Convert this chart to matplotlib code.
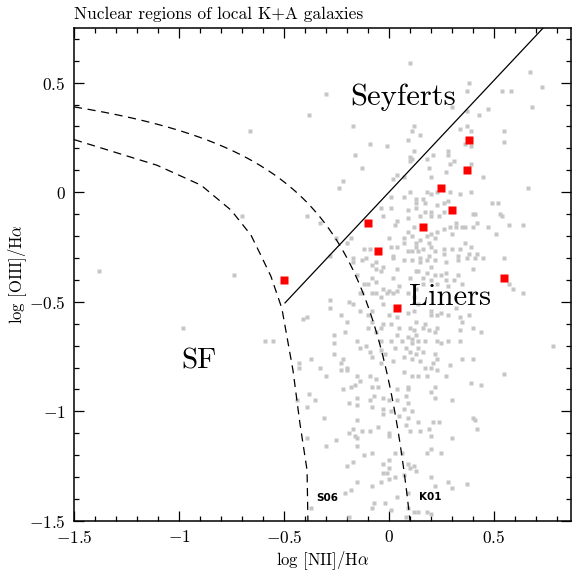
import numpy as np
import matplotlib
matplotlib.use("Agg")
import matplotlib.pyplot as plt

plt.rcParams["font.family"] = "cmr10"
plt.rcParams["mathtext.fontset"] = "cm"
plt.rcParams["axes.formatter.use_mathtext"] = True

# gray points: nuclear spectra, log [NII]/Ha vs log [OIII]/Ha
upper_pts = [
    (0.10, 0.59), (-0.30, 0.45), (-0.38, 0.35), (-0.17, 0.30), (0.12, 0.30), (0.11, 0.28),
    (0.09, 0.24), (-0.09, 0.22), (-0.01, 0.21), (0.12, 0.19), (-0.16, 0.17), (0.10, 0.16),
    (0.11, 0.15), (0.67, 0.55), (0.38, 0.50), (0.37, 0.46), (0.54, 0.46), (0.58, 0.46),
    (0.73, 0.48), (0.30, 0.39), (0.47, 0.38), (0.68, 0.39), (0.43, 0.35), (0.37, 0.37),
    (0.15, 0.26), (0.34, 0.29), (0.37, 0.30), (0.39, 0.28), (0.55, 0.28), (0.55, 0.23),
    (0.36, 0.22), (0.39, 0.21), (0.28, 0.19), (0.28, 0.17), (0.21, 0.17), (0.18, 0.15),
    (0.31, 0.14), (0.39, 0.13), (-0.66, 0.28),
]
mid_left_pts = [
    (-0.13, 0.11), (0.10, 0.14), (0.04, 0.08), (0.02, 0.06), (0.07, 0.07), (-0.22, 0.05),
    (-0.24, 0.02), (0.10, 0.00), (0.01, -0.02), (0.07, -0.02), (0.13, -0.05), (-0.04, -0.07),
    (0.01, -0.07), (0.13, -0.07), (0.09, -0.08), (-0.03, -0.11), (-0.39, -0.11), (0.09, -0.12),
    (0.04, -0.13), (0.03, -0.15), (-0.33, -0.14), (0.12, -0.16), (0.09, -0.18), (0.11, -0.20),
    (0.00, -0.21), (0.07, -0.21), (-0.25, -0.21), (-0.18, -0.21), (-0.20, -0.23), (0.07, -0.23),
    (0.04, -0.25), (0.13, -0.23), (-0.12, -0.26), (0.01, -0.25), (-0.09, -0.26), (0.09, -0.27),
    (0.13, -0.25), (0.11, -0.27), (0.02, -0.29), (0.02, -0.30), (-0.28, -0.29), (-0.17, -0.30),
    (-0.11, -0.30), (-0.13, -0.31), (-0.17, -0.32), (0.07, -0.31), (0.11, -0.31), (-0.08, -0.33),
    (-0.06, -0.32), (-0.03, -0.34), (-0.06, -0.35), (-0.04, -0.36), (0.04, -0.35), (0.13, -0.36),
    (0.02, -0.39), (0.10, -0.39), (-0.15, -0.38), (-0.08, -0.39), (-0.06, -0.41), (-0.12, -0.42),
    (-0.10, -0.42), (-0.03, -0.44), (0.00, -0.45), (0.05, -0.43), (0.04, -0.45), (0.09, -0.46),
    (-0.13, -0.46), (-0.08, -0.46), (0.13, -0.44), (-0.06, -0.46), (-0.70, -0.11),
]
mid_right_pts = [
    (0.19, 0.11), (0.29, 0.13), (0.45, 0.07), (0.20, 0.07), (0.27, 0.09), (0.66, 0.02),
    (0.18, 0.00), (0.23, 0.00), (0.20, -0.01), (0.29, 0.00), (0.34, -0.01), (0.39, 0.00),
    (0.13, -0.03), (0.16, -0.03), (0.26, -0.05), (0.28, -0.04), (0.17, -0.05), (0.23, -0.06),
    (0.49, -0.05), (0.52, -0.05), (0.17, -0.09), (0.20, -0.09), (0.26, -0.09), (0.40, -0.10),
    (0.41, -0.10), (0.53, -0.10), (0.54, -0.11), (0.15, -0.11), (0.20, -0.11), (0.24, -0.11),
    (0.32, -0.14), (0.42, -0.14), (0.35, -0.16), (0.36, -0.16), (0.40, -0.16), (0.57, -0.15),
    (0.64, -0.15), (0.47, -0.16), (0.32, -0.16), (0.26, -0.17), (0.29, -0.16), (0.20, -0.19),
    (0.23, -0.18), (0.30, -0.19), (0.51, -0.19), (0.18, -0.20), (0.22, -0.21), (0.19, -0.23),
    (0.15, -0.22), (0.36, -0.23), (0.39, -0.25), (0.30, -0.26), (0.26, -0.26), (0.20, -0.25),
    (0.14, -0.27), (0.16, -0.26), (0.22, -0.27), (0.26, -0.28), (0.34, -0.26), (0.38, -0.28),
    (0.42, -0.28), (0.19, -0.29), (0.15, -0.30), (0.33, -0.29), (0.37, -0.30), (0.41, -0.30),
    (0.45, -0.30), (0.55, -0.30), (0.18, -0.31), (0.27, -0.32), (0.33, -0.31), (0.22, -0.31),
    (0.15, -0.32), (0.20, -0.34), (0.14, -0.36), (0.27, -0.37), (0.40, -0.35), (0.18, -0.37),
    (0.22, -0.38), (0.25, -0.38), (0.33, -0.38), (0.16, -0.39), (0.20, -0.40), (0.27, -0.40),
    (0.31, -0.40), (0.16, -0.42), (0.23, -0.42), (0.35, -0.42), (0.57, -0.42), (0.59, -0.44),
    (0.64, -0.46), (0.28, -0.43),
]
low_left_pts = [
    (-0.14, -0.46), (-0.04, -0.48), (-0.01, -0.46), (0.02, -0.46), (-0.28, -0.49), (-0.19, -0.50),
    (-0.17, -0.51), (-0.03, -0.51), (-0.28, -0.53), (-0.14, -0.54), (-0.08, -0.54), (-0.10, -0.56),
    (0.00, -0.56), (0.04, -0.57), (0.09, -0.55), (0.12, -0.54), (-0.41, -0.58), (-0.39, -0.57),
    (-0.23, -0.56), (-0.20, -0.59), (-0.08, -0.59), (-0.03, -0.60), (0.01, -0.60), (-0.10, -0.62),
    (-0.04, -0.62), (0.05, -0.62), (0.10, -0.62), (0.12, -0.63), (-0.21, -0.64), (-0.26, -0.65),
    (-0.06, -0.64), (0.04, -0.65), (0.09, -0.66), (0.11, -0.67), (-0.04, -0.68), (0.01, -0.68),
    (0.06, -0.68), (-0.15, -0.68), (-0.26, -0.69), (-0.11, -0.70), (0.11, -0.69), (-0.14, -0.71),
    (-0.04, -0.72), (0.03, -0.71), (0.08, -0.71), (-0.09, -0.73), (0.10, -0.73), (-0.02, -0.74),
    (-0.26, -0.74), (-0.08, -0.75), (0.07, -0.75), (0.11, -0.76), (0.02, -0.77), (-0.37, -0.76),
    (-0.43, -0.78), (-0.23, -0.78), (-0.22, -0.76), (-0.43, -0.80), (-0.20, -0.80), (-0.04, -0.78),
    (-0.33, -0.80), (-0.23, -0.81), (-0.20, -0.81), (0.07, -0.82), (-0.30, -0.84), (-0.15, -0.84),
    (-0.09, -0.84), (-0.06, -0.85), (0.11, -0.84), (-0.14, -0.86), (-0.16, -0.88), (-0.08, -0.89),
    (-0.05, -0.89), (0.09, -0.89), (-0.18, -0.89), (-0.22, -0.90), (0.04, -0.90), (0.09, -0.90),
    (-0.38, -0.92), (-0.07, -0.93), (-0.03, -0.94), (0.08, -0.93), (-0.15, -0.94), (-0.35, -0.95),
    (-0.44, -0.95), (0.00, -0.95), (-0.09, -0.95), (0.04, -0.95), (-0.19, -0.96), (0.09, -0.96),
    (-0.39, -0.98), (-0.08, -0.98), (-0.15, -0.97), (-0.03, -0.99), (0.07, -0.99), (0.11, -1.00),
    (0.01, -1.00), (-0.03, -1.01), (0.05, -1.02), (0.09, -1.03), (-0.31, -1.03), (-0.15, -1.04),
    (-1.38, -0.36), (-0.74, -0.38), (-0.98, -0.62), (-0.59, -0.68), (-0.55, -0.68),
]
low_right_pts = [
    (0.12, -0.48), (0.14, -0.51), (0.20, -0.54), (0.20, -0.56), (0.23, -0.56), (0.25, -0.55),
    (0.28, -0.56), (0.32, -0.53), (0.34, -0.57), (0.38, -0.56), (0.35, -0.59), (0.13, -0.59),
    (0.17, -0.60), (0.23, -0.62), (0.16, -0.62), (0.40, -0.62), (0.19, -0.63), (0.22, -0.64),
    (0.44, -0.64), (0.34, -0.63), (0.13, -0.65), (0.14, -0.68), (0.17, -0.68), (0.23, -0.68),
    (0.25, -0.69), (0.28, -0.68), (0.34, -0.68), (0.78, -0.70), (0.14, -0.71), (0.16, -0.73),
    (0.13, -0.74), (0.22, -0.74), (0.23, -0.76), (0.35, -0.76), (0.40, -0.76), (0.15, -0.77),
    (0.21, -0.78), (0.17, -0.80), (0.20, -0.80), (0.29, -0.79), (0.23, -0.81), (0.55, -0.83),
    (0.14, -0.84), (0.18, -0.84), (0.27, -0.84), (0.39, -0.87), (0.44, -0.88), (0.22, -0.89),
    (0.20, -0.91), (0.22, -0.94), (0.30, -0.95), (0.40, -1.03), (0.41, -1.04), (0.14, -1.05),
    (0.21, -1.05), (0.24, -1.05),
]
bottom_pts = [
    (-0.39, -1.12), (-0.17, -1.08), (-0.19, -1.10), (-0.13, -1.09), (-0.09, -1.09), (-0.05, -1.07),
    (0.00, -1.10), (0.00, -1.11), (0.08, -1.06), (0.10, -1.09), (-0.16, -1.11), (-0.30, -1.16),
    (-0.25, -1.13), (-0.15, -1.16), (-0.15, -1.12), (-0.08, -1.19), (-0.12, -1.20), (0.03, -1.19),
    (0.06, -1.19), (0.00, -1.22), (-0.03, -1.24), (0.09, -1.24), (0.12, -1.25), (-0.20, -1.25),
    (-0.17, -1.23), (0.00, -1.26), (-0.01, -1.28), (0.10, -1.26), (-0.03, -1.28), (0.03, -1.30),
    (0.00, -1.31), (-0.04, -1.32), (-0.15, -1.32), (0.07, -1.29), (-0.08, -1.34), (-0.21, -1.37),
    (-0.18, -1.36), (0.04, -1.39), (0.09, -1.37), (-0.37, -1.44), (-0.07, -1.42), (-0.02, -1.42),
    (-0.08, -1.44), (0.01, -1.45), (0.09, -1.44), (-0.19, -1.48), (0.08, -1.48), (0.12, -1.46),
    (0.15, -1.09), (0.19, -1.08), (0.20, -1.11), (0.42, -1.08), (0.30, -1.12), (0.20, -1.17),
    (0.18, -1.19), (0.25, -1.19), (0.13, -1.27), (0.20, -1.30), (0.22, -1.34), (0.28, -1.32),
    (0.30, -1.35), (0.37, -1.33), (0.14, -1.46), (0.18, -1.46), (0.20, -1.47),
]

# red squares: K+A galaxies
ka_x = [0.38, 0.37, 0.25, 0.30, -0.10, 0.16, -0.05, -0.50, 0.55, 0.04]
ka_y = [0.24, 0.10, 0.02, -0.08, -0.14, -0.16, -0.27, -0.40, -0.39, -0.53]

# S06 demarcation
s06_x = [-1.50, -1.105, -0.895, -0.752, -0.657, -0.61, -0.562, -0.51, -0.457, -0.424, -0.39, -0.386]
s06_y = [0.24, 0.123, 0.032, -0.082, -0.196, -0.288, -0.384, -0.53, -0.813, -1.055, -1.269, -1.50]

gray = np.array(upper_pts + mid_left_pts + mid_right_pts + low_left_pts + low_right_pts + bottom_pts)

fig = plt.figure(figsize=(5.73, 5.73), dpi=100)
ax = fig.add_axes([74 / 573, 1 - 521 / 573, 497 / 573, 493 / 573])

ax.plot(gray[:, 0], gray[:, 1], "s", ms=2.9, color="#c6c6c6", mec="none", zorder=2)
ax.plot(ka_x, ka_y, "s", ms=6.4, color="red", mec="none", zorder=4)

# K01 curve (in [OIII]/Ha units)
xk = np.linspace(-1.5, 0.10, 300)
ax.plot(xk, 0.533 / (xk - 0.345) + 0.678, color="black", lw=0.9, ls=(0, (6.5, 4.5)), zorder=3)
ax.plot(s06_x, s06_y, color="black", lw=0.9, ls=(0, (6.5, 4.5)), zorder=3)

# Seyfert / Liner division
xs = np.array([-0.495, 0.74])
ax.plot(xs, 1.02 * xs, color="black", lw=0.9, zorder=3)

ax.text(0.067, 0.434, "Seyferts", fontsize=22, ha="center", va="center", zorder=5)
ax.text(0.29, -0.48, "Liners", fontsize=22, ha="center", va="center", zorder=5)
ax.text(-0.905, -0.77, "SF", fontsize=21, ha="center", va="center", zorder=5)
ax.text(-0.295, -1.393, "S06", fontsize=7.5, weight="bold", family="DejaVu Sans",
        ha="center", va="center", zorder=5)
ax.text(0.195, -1.39, "K01", fontsize=7.5, weight="bold", family="DejaVu Sans",
        ha="center", va="center", zorder=5)

ax.set_xlim(-1.5, 0.867)
ax.set_ylim(-1.5, 0.749)
ax.set_xticks([-1.5, -1, -0.5, 0, 0.5])
ax.set_xticklabels(["$-1.5$", "$-1$", "$-0.5$", "$0$", "$0.5$"])
ax.set_yticks([-1.5, -1, -0.5, 0, 0.5])
ax.set_yticklabels(["$-1.5$", "$-1$", "$-0.5$", "$0$", "$0.5$"])
ax.set_xticks(np.arange(-1.5, 0.87, 0.1), minor=True)
ax.set_yticks(np.arange(-1.5, 0.75, 0.1), minor=True)
ax.tick_params(which="both", direction="in", top=True, right=True, labelsize=12.5, width=0.9)
ax.tick_params(which="major", length=7, pad=6)
ax.tick_params(which="minor", length=3.5)
for s in ax.spines.values():
    s.set_linewidth(1.1)

ax.set_xlabel(r"log [NII]/H$\alpha$", fontsize=12, labelpad=2)
ax.set_ylabel(r"log [OIII]/H$\alpha$", fontsize=12, labelpad=0)

fig.text(74 / 573, 1 - 14 / 573, "Nuclear regions of local K+A galaxies", fontsize=12.5,
         ha="left", va="center")

fig.savefig("out.png", dpi=100)
